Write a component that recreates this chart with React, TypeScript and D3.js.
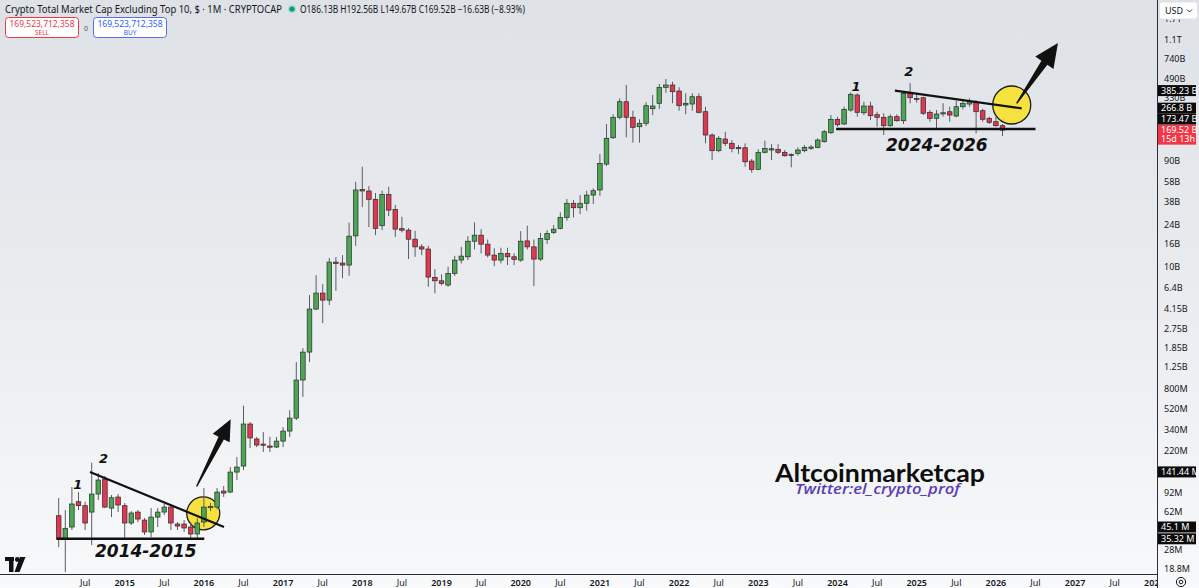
import React from 'react';
import * as d3 from 'd3';

// ---------- DATA (values in billions USD, monthly candles from Mar 2014) ----------
const START_MONTH_INDEX = 2; // months since Jan 2014 -> Mar 2014
const BASE_YEAR = 2014;

const opens = [
  0.0570, 0.0351, 0.0451, 0.0762, 0.0702, 0.0615, 0.0894, 0.1220, 0.0668, 0.0840,
  0.0702, 0.0490, 0.0615, 0.0521, 0.0407, 0.0554, 0.0615, 0.0682, 0.0480, 0.0480, 0.0451, 0.0390,
  0.0500, 0.0682, 0.0682, 0.0951, 0.0931, 0.1410, 0.1597, 0.382, 0.280, 0.252, 0.242, 0.237,
  0.268, 0.330, 0.432, 0.951, 1.698, 4.145, 5.775, 4.99, 10.98, 10.76, 10.32, 18.92,
  49.5, 48.0, 40.4, 23.36, 44.75, 32.8, 21.97, 21.3, 17.66, 15.06, 14.4, 8.0,
  7.45, 6.82, 8.69, 11.45, 12.26, 16.94, 19.2, 15.93, 12.7, 11.45, 13.16, 12.26,
  11.45, 17.05, 15.06, 11.69, 17.55, 20.3, 22.07, 27.74, 37.2, 33.9, 37.2, 44.1,
  49.0, 83.9, 144.96, 221.3, 305.8, 221.3, 182.1, 195.4, 264.5, 295.8, 412.2, 432.4,
  381.8, 285.6, 291.5, 339.2, 248.5, 153.3, 110.7, 141.1, 129.0, 115.3, 117.7, 89.3,
  75.2, 107.1, 112.3, 113.95, 107.1, 100.6, 104.8, 110.7, 118.7, 118.7, 133.4, 160.7,
  212.3, 192.6, 257.4, 351.4, 243.3, 279.7, 233.6, 221.3, 185.9, 224.1, 206.2, 364.0,
  328.2, 332.2, 245.5, 216.7, 239.4, 248.5, 227.3, 275.7, 291.5, 302.0, 253.7, 216.7,
  202.0, 186.13,
];
const highs = [
  0.0823, 0.0641, 0.1034, 0.0931, 0.0762, 0.1711, 0.1382, 0.1299, 0.0876, 0.0894,
  0.0742, 0.0628, 0.0641, 0.0543, 0.0668, 0.0668, 0.0727, 0.0727, 0.0500, 0.0521, 0.0500, 0.0543,
  0.1012, 0.0742, 0.1012, 0.1056, 0.1564, 0.1928, 0.558, 0.398, 0.292, 0.323, 0.292, 0.292,
  0.358, 0.510, 1.381, 1.842, 5.54, 8.39, 6.96, 11.94, 12.18, 12.7, 24.86, 58.1,
  79.35, 53.2, 46.0, 48.3, 52.4, 35.9, 28.1, 22.2, 21.0, 15.93, 15.37, 9.50,
  8.51, 9.96, 12.5, 15.06, 18.8, 25.07, 21.75, 17.55, 14.6, 14.79, 14.79, 13.16,
  20.86, 23.36, 17.55, 20.14, 21.3, 23.7, 30.8, 40.6, 39.8, 44.1, 48.3, 50.7,
  103.3, 192.6, 235.5, 328.2, 432.4, 253.7, 212.3, 302.0, 351.4, 441.5, 489.8, 463.1,
  412.2, 364.0, 364.0, 364.0, 275.7, 158.8, 150.1, 164.1, 138.2, 124.5, 129.0, 93.1,
  113.95, 136.2, 127.1, 126.5, 112.3, 104.8, 118.7, 124.5, 124.5, 143.2, 170.0, 232.1,
  224.1, 275.7, 371.6, 364.0, 305.8, 305.8, 248.5, 240.4, 235.5, 235.5, 376.3, 450.7,
  364.0, 339.2, 257.4, 257.4, 295.8, 275.7, 312.2, 321.5, 328.2, 316.8, 264.5, 224.1,
  224.1, 192.56,
];
const lows = [
  0.0297, 0.0177, 0.0424, 0.0641, 0.0424, 0.0310, 0.0789, 0.0668, 0.0554, 0.0615,
  0.0351, 0.0470, 0.0500, 0.0382, 0.0366, 0.0451, 0.0578, 0.0424, 0.0424, 0.0407, 0.0359, 0.0359,
  0.0451, 0.0628, 0.0654, 0.0840, 0.0912, 0.1195, 0.147, 0.232, 0.237, 0.214, 0.214, 0.232,
  0.237, 0.292, 0.415, 0.669, 1.381, 4.06, 3.096, 4.50, 6.05, 7.88, 8.27, 15.37,
  34.4, 22.7, 19.2, 21.3, 28.5, 18.5, 20.3, 11.69, 12.26, 12.7, 6.58, 5.74,
  6.78, 6.58, 8.22, 10.69, 11.45, 14.3, 13.16, 12.1, 10.1, 10.69, 10.32, 10.32,
  11.05, 14.3, 6.68, 11.21, 15.93, 19.6, 21.6, 25.9, 27.74, 29.7, 31.8, 36.65,
  43.46, 80.5, 141.1, 212.3, 146.2, 130.6, 130.6, 184.7, 232.1, 262.8, 368.5, 295.8,
  253.7, 235.5, 253.7, 240.4, 129.0, 91.2, 107.1, 121.9, 107.1, 103.3, 79.35, 70.05,
  74.1, 104.8, 91.2, 103.3, 97.7, 78.4, 99.7, 107.1, 112.3, 116.2, 130.6, 156.5,
  182.1, 188.6, 248.5, 224.1, 232.1, 209.2, 182.1, 153.3, 182.1, 202.0, 192.6, 295.8,
  299.5, 232.1, 202.0, 176.1, 224.1, 202.0, 221.3, 261.2, 275.7, 158.8, 202.0, 192.6,
  182.1, 149.67,
];
const closes = [
  0.0351, 0.0439, 0.0727, 0.0702, 0.0490, 0.0894, 0.1195, 0.0682, 0.0828, 0.0712,
  0.0490, 0.0603, 0.0532, 0.0407, 0.0554, 0.0615, 0.0682, 0.0490, 0.0460, 0.0442, 0.0390, 0.0490,
  0.0682, 0.0690, 0.0931, 0.0912, 0.1410, 0.1564, 0.382, 0.286, 0.247, 0.250, 0.237, 0.268,
  0.330, 0.432, 0.951, 1.698, 4.145, 5.775, 4.99, 10.98, 10.67, 10.32, 18.8, 49.0,
  48.0, 40.4, 22.07, 44.75, 32.3, 21.75, 21.3, 17.66, 15.06, 14.4, 8.05, 7.45,
  7.06, 8.69, 11.45, 12.44, 16.94, 19.2, 15.93, 12.7, 11.45, 13.16, 12.26, 11.62,
  16.94, 15.06, 11.69, 17.92, 19.89, 21.75, 27.74, 37.2, 33.9, 37.2, 44.1, 48.3,
  85.15, 143.2, 221.3, 305.8, 221.3, 179.8, 195.4, 281.5, 279.7, 412.2, 432.4, 376.3,
  281.5, 295.8, 339.2, 245.5, 153.3, 110.7, 143.2, 129.0, 116.2, 118.7, 88.0, 75.2,
  107.1, 116.2, 115.3, 107.1, 99.7, 102.7, 112.3, 118.7, 119.4, 138.2, 164.1, 212.3,
  189.8, 261.2, 356.6, 245.5, 279.7, 228.7, 221.3, 185.9, 224.1, 206.2, 364.0, 332.2,
  321.5, 240.4, 216.7, 237.0, 243.3, 232.1, 275.7, 295.8, 305.8, 248.5, 212.3, 199.4,
  186.1, 169.52,
];

// price-axis tick labels that are visible (the others are covered by the drawing labels)
const priceTickValues = [1700, 1100, 740, 490, 330, 90, 58, 38, 24, 16, 10, 6.4, 4.15, 2.75, 1.85, 1.25, 0.8, 0.52, 0.34, 0.22, 0.092, 0.062, 0.028, 0.0188];
const priceTickLabels = ['1.7T', '1.1T', '740B', '490B', '330B', '90B', '58B', '38B', '24B', '16B', '10B', '6.4B', '4.15B', '2.75B', '1.85B', '1.25B', '800M', '520M', '340M', '220M', '92M', '62M', '28M', '18.8M'];

// drawn-line price labels on the axis
const markerValues = [385.23, 266.8, 173.47, 0.14144, 0.0451, 0.03532];
const markerLabels = ['385.23 B', '266.8 B', '173.47 B', '141.44 M', '45.1 M', '35.32 M'];
const currentValue = 169.52;
const currentLabel = '169.52 B';
const countdownLabel = '15d 13h';

// trend lines: [monthIndexStart, valueStart, monthIndexEnd, valueEnd]
const trendLines = [
  [6.74, 0.14144, 27.05, 0.0451],
  [1.7, 0.03532, 24.06, 0.03532],
  [128.7, 385.23, 147.9, 266.8],
  [119.8, 173.47, 150.0, 173.47],
];
// highlight circles: [monthIndex, value]
const circles = [[23.9, 0.0599], [146.4, 285.6]];
// arrows: [tailMonth, tailValue, tipMonth, tipValue]
const arrows = [[22.9, 0.1044, 28.06, 0.421], [147.15, 295.8, 153.4, 1033.6]];
const waveMarks = [
  { label: '1', m: 4.9, v: 0.100 },
  { label: '2', m: 8.8, v: 0.170 },
  { label: '1', m: 122.8, v: 385 },
  { label: '2', m: 130.8, v: 520 },
];

const W = 1199;
const H = 588;
const PLOT_R = 1157;
const AXIS_Y = 574.5;

function arrowPoly(t: number[], p: number[], headLen: number, headW: number, shaftW: number) {
  const dx = p[0] - t[0], dy = p[1] - t[1];
  const L = Math.hypot(dx, dy);
  const ux = dx / L, uy = dy / L;
  const nx = -uy, ny = ux;
  const bx = p[0] - ux * headLen, by = p[1] - uy * headLen;
  const pts = [
    [t[0] + nx * 0.7, t[1] + ny * 0.7],
    [bx + nx * shaftW, by + ny * shaftW],
    [bx + nx * headW, by + ny * headW],
    [p[0], p[1]],
    [bx - nx * headW, by - ny * headW],
    [bx - nx * shaftW, by - ny * shaftW],
    [t[0] - nx * 0.7, t[1] - ny * 0.7],
  ];
  return pts.map((q) => q.join(',')).join(' ');
}

export default function App() {
  const x = d3.scaleLinear().domain([0, 168]).range([45.5, 45.5 + 6.6 * 168]);
  const y = d3.scaleLog().domain([0.0188, 1100]).range([569.2, 40]);

  const candles = opens.map((o, i) => ({
    m: START_MONTH_INDEX + i,
    o, h: highs[i], l: lows[i], c: closes[i],
  }));

  const timeTicks = d3.range(6, 169, 6).map((m) => ({
    m,
    label: m % 12 === 0 ? String(BASE_YEAR + m / 12) : 'Jul',
    year: m % 12 === 0,
  }));

  // place marker labels avoiding the current price label
  const curY = y(currentValue);
  const placed = markerValues.map((v, i) => ({ y: y(v), label: markerLabels[i] }));
  placed.sort((a, b) => a.y - b.y);
  const above = placed.filter((p) => p.y <= curY).reverse();
  let limit = curY - 11;
  above.forEach((p) => { if (p.y > limit) p.y = limit; limit = p.y - 11; });

  const green = '#4aa653';
  const red = '#e3374f';
  const font = "'Noto Sans', 'Liberation Sans', sans-serif";
  const annFont = "'DejaVu Sans', sans-serif";

  return (
    <svg width={W} height={H} style={{ position: 'absolute', left: 0, top: 0, display: 'block' }}>
      <defs>
        <linearGradient id="bg" x1="0" y1="0" x2="0" y2="1">
          <stop offset="0" stopColor="#dee1e6" />
          <stop offset="0.6" stopColor="#eceef1" />
          <stop offset="1" stopColor="#f8f9fa" />
        </linearGradient>
        <clipPath id="plotClip"><rect x={0} y={0} width={PLOT_R} height={AXIS_Y} /></clipPath>
        <clipPath id="timeClip"><rect x={0} y={AXIS_Y} width={PLOT_R} height={H - AXIS_Y} /></clipPath>
        <clipPath id="axisClip"><rect x={PLOT_R + 1} y={19.5} width={W - PLOT_R} height={AXIS_Y - 19.5} /></clipPath>
      </defs>
      <rect x={0} y={0} width={W} height={H} fill="url(#bg)" />

      <g clipPath="url(#plotClip)">
        {/* highlight circles */}
        {circles.map((c, i) => (
          <circle key={i} cx={x(c[0])} cy={y(c[1])} r={i === 0 ? 16.5 : 19} fill="#f6e23f" stroke="#1a1a1a" strokeWidth={1.3} />
        ))}
        {/* candles */}
        {candles.map((d, i) => {
          const cx = x(d.m);
          const up = d.c >= d.o;
          const top = y(Math.max(d.o, d.c));
          const bot = y(Math.min(d.o, d.c));
          const hgt = Math.max(bot - top, 1.2);
          return (
            <g key={i}>
              <line x1={cx} x2={cx} y1={y(d.h)} y2={y(d.l)} stroke="#5a5d66" strokeWidth={1} />
              <rect x={cx - 2.3} y={top} width={4.6} height={hgt} fill={up ? green : red} stroke="#2b2b2b" strokeWidth={0.7} />
            </g>
          );
        })}
        {/* trend lines */}
        {trendLines.map((t, i) => (
          <line key={i} x1={x(t[0])} y1={y(t[1])} x2={x(t[2])} y2={y(t[3])} stroke="#111" strokeWidth={i % 2 === 1 ? 2.6 : 2.2} />
        ))}
        {/* arrows */}
        {arrows.map((a, i) => (
          <polygon key={i} points={arrowPoly([x(a[0]), y(a[1])], [x(a[2]), y(a[3])], i === 0 ? 21 : 24, i === 0 ? 9.5 : 11, i === 0 ? 3 : 3.6)} fill="#111" />
        ))}
        {waveMarks.map((w, i) => (
          <text key={i} x={x(w.m)} y={y(w.v)} fontFamily={annFont} fontWeight="bold" fontStyle="italic" fontSize={13} fill="#111" textAnchor="middle">{w.label}</text>
        ))}
        <text x={95} y={557} fontFamily={annFont} fontWeight="bold" fontStyle="italic" fontSize={17} fill="#111">2014-2015</text>
        <text x={886} y={150.5} fontFamily={annFont} fontWeight="bold" fontStyle="italic" fontSize={17} fill="#111">2024-2026</text>
        <text x={775} y={482} fontFamily="Lato, 'Open Sans', sans-serif" fontWeight="bold" fontSize={25} fill="#0d0d0d" textLength={210} lengthAdjust="spacingAndGlyphs">Altcoinmarketcap</text>
        <text x={795} y={493.5} fontFamily="'Open Sans', sans-serif" fontWeight={600} fontStyle="italic" fontSize={15} fill="#5a3db5" textLength={165} lengthAdjust="spacingAndGlyphs">Twitter:el_crypto_prof</text>
      </g>

      {/* header */}
      <text x={5} y={13} fontFamily={font} fontSize={11} fill="#131722" textLength={277} lengthAdjust="spacingAndGlyphs">Crypto Total Market Cap Excluding Top 10, $ · 1M · CRYPTOCAP</text>
      <circle cx={292} cy={9} r={4} fill="#a8d8cc" />
      <circle cx={292} cy={9} r={2.6} fill="#089981" />
      <text x={300} y={13} fontFamily={font} fontSize={10} fill="#131722" textLength={225} lengthAdjust="spacingAndGlyphs">O186.13B H192.56B L149.67B C169.52B −16.63B (−8.93%)</text>
      <rect x={5.5} y={17.5} width={73} height={20} rx={3} fill="#fff" stroke="#f23645" strokeWidth={1} />
      <text x={42} y={27} fontFamily={font} fontSize={8.5} fill="#f23645" textAnchor="middle">169,523,712,358</text>
      <text x={42} y={35} fontFamily={font} fontSize={6.5} fill="#f23645" textAnchor="middle">SELL</text>
      <text x={86} y={31} fontFamily={font} fontSize={7} fill="#555" textAnchor="middle">0</text>
      <rect x={93.5} y={17.5} width={73} height={20} rx={3} fill="#fff" stroke="#5a6cf0" strokeWidth={1} />
      <text x={130} y={27} fontFamily={font} fontSize={8.5} fill="#2962ff" textAnchor="middle">169,523,712,358</text>
      <text x={130} y={35} fontFamily={font} fontSize={6.5} fill="#2962ff" textAnchor="middle">BUY</text>

      {/* price axis */}
      <line x1={PLOT_R + 0.5} x2={PLOT_R + 0.5} y1={0} y2={H} stroke="#2a2e39" strokeWidth={1} />
      <g clipPath="url(#axisClip)">
        {priceTickValues.map((v, i) => (
          <text key={i} x={1164} y={y(v)} dy="0.35em" fontFamily={font} fontSize={9} fill="#131722">{priceTickLabels[i]}</text>
        ))}
      </g>
      {placed.map((p, i) => (
        <g key={i}>
          <rect x={1158} y={p.y - 5.5} width={38} height={11} fill="#0b0b0b" />
          <text x={1161} y={p.y} dy="0.35em" fontFamily={font} fontSize={9} fill="#fff">{p.label}</text>
        </g>
      ))}
      <rect x={1158} y={curY - 5.5} width={38} height={20} fill="#f23645" />
      <text x={1161} y={curY} dy="0.35em" fontFamily={font} fontSize={9} fill="#fff">{currentLabel}</text>
      <text x={1161} y={curY + 9} dy="0.35em" fontFamily={font} fontSize={9} fill="#fff">{countdownLabel}</text>
      <rect x={1160} y={2.5} width={37} height={16} rx={2} fill="#fff" />
      <text x={1165} y={14} fontFamily={font} fontSize={9} fill="#131722">USD</text>
      <path d="M1187,9.5 l2.5,2.5 l2.5,-2.5" fill="none" stroke="#131722" strokeWidth={0.9} />

      {/* time axis */}
      <line x1={0} x2={PLOT_R} y1={AXIS_Y} y2={AXIS_Y} stroke="#2a2e39" strokeWidth={1} />
      <g clipPath="url(#timeClip)">
        {timeTicks.map((t, i) => (
          <text key={i} x={x(t.m)} y={586} fontFamily={font} fontSize={9} fontWeight={t.year ? 600 : 400} fill="#131722" textAnchor="middle">{t.label}</text>
        ))}
      </g>
      <circle cx={1181} cy={582} r={4.6} fill="none" stroke="#131722" strokeWidth={1} />
      <circle cx={1181} cy={582} r={1.8} fill="none" stroke="#131722" strokeWidth={1} />

      {/* logo */}
      <g fill="#111">
        <rect x={5} y={557} width={9} height={4} />
        <rect x={9} y={557} width={4.5} height={15} />
        <circle cx={17.3} cy={559.5} r={2.4} />
        <polygon points="20,557 25.5,557 19.5,572 14.5,572" />
      </g>
    </svg>
  );
}
